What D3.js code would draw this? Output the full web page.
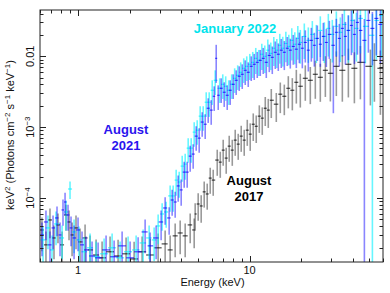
<!DOCTYPE html>
<html>
<head>
<meta charset="utf-8">
<script src="https://cdnjs.cloudflare.com/ajax/libs/d3/7.8.5/d3.min.js"></script>
<style>
    body { margin: 0; background: #fff; }
    svg { display: block; font-family: "Liberation Sans", Arial, sans-serif; }
</style>
</head>
<body>
<div id="chart"></div>
<script>
'use strict';

// August 2017 (black): bin centre (keV), flux (keV^2 photons cm^-2 s^-1 keV^-1), relative 1-sigma error
var energy2017 = [0.616, 0.650, 0.686, 0.724, 0.764, 0.807, 0.851, 0.886, 0.923, 0.973, 1.027, 1.099,
    1.175, 1.274, 1.381, 1.537, 1.712, 1.906, 2.123, 2.364, 2.632, 2.931, 3.220, 3.444,
    3.684, 3.940, 4.214, 4.507, 4.756, 4.819, 5.018, 5.224, 5.440, 5.664, 5.897, 6.140,
    6.48, 6.75, 7.02, 7.31, 7.61, 7.93, 8.25, 8.59, 8.94, 9.31, 9.70, 10.09,
    10.51, 10.94, 11.40, 11.86, 12.35, 12.86, 13.39, 14.32, 15.11, 15.95, 16.83, 17.76,
    18.74, 19.77, 21.14, 22.61, 24.18, 25.86, 27.67, 29.59, 32.07, 34.76, 37.69, 40.86,
    44.29, 50.66, 53.46, 57.94];
var flux2017 = [3.54e-5, 2.18e-5, 4.90e-5, 2.73e-5, 4.17e-5, 2.18e-5, 5.76e-5, 4.59e-5, 3.01e-5, 3.78e-5, 2.40e-5, 2.73e-5,
    1.85e-5, 1.57e-5, 1.43e-5, 1.74e-5, 1.52e-5, 1.63e-5, 1.38e-5, 1.74e-5, 1.57e-5, 1.98e-5, 2.25e-5, 1.85e-5,
    2.92e-5, 3.21e-5, 2.92e-5, 4.17e-5, 3.54e-5, 5.95e-5, 8.23e-5, 7.72e-5, 1.22e-4, 1.14e-4, 1.91e-4, 1.79e-4,
    3.43e-4, 3.21e-4, 4.74e-4, 3.66e-4, 5.40e-4, 4.74e-4, 6.56e-4, 5.76e-4, 7.47e-4, 6.56e-4, 9.07e-4, 7.97e-4,
    1.10e-3, 1.03e-3, 1.43e-3, 1.34e-3, 1.85e-3, 1.74e-3, 2.40e-3, 2.11e-3, 2.92e-3, 2.73e-3, 3.54e-3, 3.32e-3,
    4.30e-3, 3.78e-3, 4.90e-3, 4.59e-3, 5.58e-3, 5.06e-3, 6.35e-3, 5.76e-3, 7.23e-3, 6.35e-3, 7.72e-3, 6.78e-3,
    8.23e-3, 7.23e-3, 8.78e-3, 6.78e-3];
var relErr2017 = [.5, .55, .45, .5, .45, .55, .4, .45, .5, .5, .55, .55,
    .6, .65, .7, .65, .7, .7, .75, .65, .7, .6, .55, .6,
    .5, .5, .5, .45, .45, .42, .42, .42, .4, .4, .4, .4,
    .4, .4, .4, .4, .4, .4, .4, .4, .4, .4, .4, .42,
    .42, .42, .42, .42, .44, .44, .44, .44, .46, .46, .48, .48,
    .5, .5, .52, .54, .55, .55, .58, .6, .62, .64, .66, .68,
    .7, .72, .74, .78];

// August 2021 (blue)
var energy2021 = [0.616, 0.650, 0.686, 0.715, 0.754, 0.785, 0.817, 0.840, 0.874, 0.910, 0.948, 1.000,
    1.055, 1.114, 1.207, 1.309, 1.457, 1.623, 1.807, 2.012, 2.240, 2.461, 2.632, 2.853,
    3.051, 3.220, 3.398, 3.538, 3.684, 3.836, 3.994, 4.158, 4.329, 4.507, 4.692, 4.885,
    5.086, 5.295, 5.513, 5.740, 5.976, 6.222, 6.392, 6.566, 6.837, 7.117, 7.410, 7.715,
    8.032, 8.362, 8.707, 9.065, 9.438, 9.826, 10.23, 10.65, 11.09, 11.55, 12.02, 12.52,
    13.03, 13.57, 14.13, 14.71, 15.31, 15.95, 16.60, 17.28, 17.99, 18.74, 19.51, 20.31,
    21.14, 22.01, 22.92, 23.86, 24.84, 25.86, 26.93, 28.04, 29.19, 30.81, 32.07, 33.39,
    34.76, 36.21, 37.69, 39.25, 40.86, 42.55, 44.29, 46.73, 49.31, 52.04, 54.90, 57.94];
var flux2021 = [3.01e-5, 4.59e-5, 2.18e-5, 3.78e-5, 5.23e-5, 3.01e-5, 6.78e-5, 8.78e-5, 5.76e-5, 3.78e-5, 2.73e-5, 3.54e-5,
    2.18e-5, 1.85e-5, 1.52e-5, 1.43e-5, 1.85e-5, 1.48e-5, 2.11e-5, 1.43e-5, 1.74e-5, 3.32e-5, 2.11e-5, 2.73e-5,
    4.59e-5, 7.23e-5, 5.23e-5, 9.37e-5, 8.78e-5, 1.48e-4, 1.30e-4, 2.32e-4, 2.32e-4, 3.90e-4, 4.17e-4, 7.47e-4,
    7.00e-4, 1.18e-3, 1.10e-3, 1.85e-3, 1.74e-3, 2.73e-3, 9.37e-3, 2.82e-3, 3.54e-3, 3.11e-3, 2.82e-3, 3.32e-3,
    4.03e-3, 4.59e-3, 5.23e-3, 5.58e-3, 6.35e-3, 5.95e-3, 7.23e-3, 7.72e-3, 8.23e-3, 8.78e-3, 9.37e-3, 8.23e-3,
    0.0103, 0.00968, 0.0114, 0.0107, 0.0122, 0.0114, 0.0130, 0.0122, 0.0138, 0.0126, 0.0148, 0.0130,
    0.0157, 0.0122, 0.0168, 0.0143, 0.0179, 0.0148, 0.0191, 0.0157, 0.0204, 0.0143, 0.0218, 0.0179,
    0.0248, 0.0191, 0.0232, 0.0273, 0.0204, 0.0301, 0.0232, 0.0168, 0.0321, 0.0248, 0.0343, 0.0282];
var relErr2021 = [.5, .45, .55, .5, .45, .5, .4, .35, .4, .45, .5, .5,
    .55, .55, .6, .65, .6, .7, .6, .7, .6, .5, .55, .5,
    .45, .42, .42, .4, .4, .4, .4, .4, .4, .4, .38, .38,
    .38, .38, .38, .38, .38, .38, .55, .38, .38, .38, .38, .38,
    .38, .38, .38, .38, .38, .38, .38, .4, .4, .4, .4, .4,
    .42, .42, .42, .42, .44, .44, .44, .45, .45, .46, .46, .48,
    .48, .5, .5, .5, .52, .52, .55, .55, .55, .89, .55, .6,
    .6, .6, .62, .62, .62, .65, .65, 1.0, .65, .7, .7, .72];

// January 2022 (cyan)
var energy2022 = [0.625, 0.668, 0.705, 0.744, 0.807, 0.851, 0.898, 0.948, 1.013, 1.084, 1.175, 1.274,
    1.419, 1.580, 1.759, 1.958, 2.181, 2.396, 2.597, 2.778, 2.931, 3.093, 3.264, 3.444,
    3.586, 3.734, 3.888, 4.048, 4.214, 4.387, 4.568, 4.756, 4.951, 5.154, 5.367, 5.588,
    5.818, 6.058, 6.306, 6.70, 6.98, 7.26, 7.56, 7.87, 8.19, 8.53, 8.88, 9.25,
    9.63, 10.03, 10.44, 10.87, 11.32, 11.79, 12.27, 12.78, 13.30, 13.85, 14.42, 15.01,
    15.62, 16.28, 16.94, 17.63, 18.36, 19.12, 19.77, 20.86, 22.01, 23.23, 24.51, 25.86,
    27.30, 28.80, 30.39, 32.07, 33.84, 35.72, 37.69, 39.78, 41.98, 44.29, 47.36, 52.04,
    54.90, 58.72];
var flux2022 = [2.56e-5, 3.78e-5, 1.85e-5, 4.30e-5, 2.73e-5, 6.35e-5, 1.34e-4, 3.32e-5, 2.56e-5, 1.74e-5, 1.98e-5, 1.48e-5,
    1.63e-5, 1.98e-5, 1.43e-5, 1.74e-5, 1.85e-5, 2.32e-5, 2.73e-5, 2.56e-5, 4.03e-5, 5.95e-5, 6.35e-5, 1.07e-4,
    1.07e-4, 1.79e-4, 1.68e-4, 2.82e-4, 3.01e-4, 5.06e-4, 5.06e-4, 8.51e-4, 9.07e-4, 1.43e-3, 1.43e-3, 2.25e-3,
    2.25e-3, 3.32e-3, 4.59e-3, 3.54e-3, 4.03e-3, 3.78e-3, 3.32e-3, 4.03e-3, 4.90e-3, 5.40e-3, 5.95e-3, 6.78e-3,
    7.23e-3, 7.72e-3, 8.23e-3, 9.37e-3, 8.78e-3, 0.0107, 0.0100, 0.0122, 0.0110, 0.0130, 0.0122, 0.0143,
    0.0130, 0.0152, 0.0138, 0.0168, 0.0148, 0.0179, 0.0157, 0.0191, 0.0168, 0.0204, 0.0179, 0.0232,
    0.0191, 0.0248, 0.0204, 0.0265, 0.0218, 0.0282, 0.0232, 0.0321, 0.0248, 0.0343, 0.0265, 0.0198,
    0.0321, 0.0378];
var relErr2022 = [.55, .5, .6, .5, .5, .45, .28, .5, .55, .6, .6, .65,
    .65, .6, .7, .65, .6, .55, .5, .5, .45, .42, .4, .4,
    .4, .4, .4, .4, .4, .38, .38, .38, .38, .38, .38, .38,
    .38, .38, .38, .38, .38, .38, .38, .38, .38, .38, .38, .38,
    .38, .4, .4, .4, .4, .4, .42, .42, .42, .44, .44, .45,
    .45, .46, .46, .48, .48, .5, .5, .52, .52, .54, .55, .58,
    .58, .6, .6, .62, .62, .64, .65, .65, .66, .68, .7, 1.0,
    .72, .75];

var xMajorTicks = [1, 10];
var yMajorTicks = [1e-4, 1e-3, 0.01];
var yTickLabels = [{base: '10', exp: '\u22124'}, {base: '10', exp: '\u22123'}, {base: '0.01', exp: ''}];

var width = 390;
var height = 293;
var margin = {top: 10, right: 7, bottom: 31, left: 40};

var x = d3.scaleLog().domain([0.6, 60]).range([margin.left, width - margin.right]);
var y = d3.scaleLog().domain([1.25e-5, 0.045]).range([height - margin.bottom, margin.top]);

var svg = d3.select('#chart').append('svg')
    .attr('width', width)
    .attr('height', height);

svg.append('clipPath')
    .attr('id', 'plotClip')
    .append('rect')
    .attr('x', margin.left)
    .attr('y', margin.top)
    .attr('width', width - margin.left - margin.right)
    .attr('height', height - margin.top - margin.bottom);

var series = [
    {energy: energy2017, flux: flux2017, err: relErr2017, bar: 'rgba(0,0,0,0.4)', cross: '#000'},
    {energy: energy2022, flux: flux2022, err: relErr2022, bar: 'rgba(0,240,255,0.6)', cross: '#00f0ff'},
    {energy: energy2021, flux: flux2021, err: relErr2021, bar: 'rgba(10,0,255,0.48)', cross: '#0a00ff'}
];

// contiguous bins: edges half way (in log) between neighbouring centres
var binEdges = function (energy) {
    var n = energy.length;
    return energy.map(function (e, i) {
        var prev = i > 0 ? energy[i - 1] : e * e / energy[i + 1];
        var next = i < n - 1 ? energy[i + 1] : e * e / energy[i - 1];
        return [Math.sqrt(prev * e), Math.sqrt(e * next)];
    });
};

var dataG = svg.append('g').attr('clip-path', 'url(#plotClip)');

series.forEach(function (s) {
    var edges = binEdges(s.energy);
    var pts = s.energy.map(function (e, i) {
        var f = s.flux[i];
        var lo = f * (1 - s.err[i]);
        return {e: e, f: f, lo: lo > 0 ? lo : 1e-7, hi: f * (1 + s.err[i]), e0: edges[i][0], e1: edges[i][1]};
    });
    var g = dataG.append('g');

    g.selectAll('line.vbar')
        .data(pts)
        .enter().append('line')
        .attr('class', 'vbar')
        .attr('x1', function (d) { return x(d.e); })
        .attr('x2', function (d) { return x(d.e); })
        .attr('y1', function (d) { return y(d.lo); })
        .attr('y2', function (d) { return y(d.hi); })
        .attr('stroke', s.bar)
        .attr('stroke-width', 1.6);

    g.selectAll('line.hbar')
        .data(pts)
        .enter().append('line')
        .attr('class', 'hbar')
        .attr('x1', function (d) { return x(d.e0); })
        .attr('x2', function (d) { return x(d.e1); })
        .attr('y1', function (d) { return y(d.f); })
        .attr('y2', function (d) { return y(d.f); })
        .attr('stroke', s.cross)
        .attr('stroke-opacity', 0.85)
        .attr('stroke-width', 1);
});

// frame and ticks (inside, on all four sides)
var x0 = margin.left, x1 = width - margin.right;
var y0 = height - margin.bottom, y1 = margin.top;
var axisG = svg.append('g').attr('stroke', '#222').attr('stroke-width', 1);

axisG.append('rect')
    .attr('x', x0)
    .attr('y', y1)
    .attr('width', x1 - x0)
    .attr('height', y0 - y1)
    .attr('fill', 'none');

var isMajor = function (v, list) {
    return list.some(function (m) { return Math.abs(v / m - 1) < 1e-6; });
};

x.ticks().forEach(function (v) {
    var len = isMajor(v, xMajorTicks) ? 6 : 3.5;
    var px = Math.round(x(v)) + 0.5;
    axisG.append('line').attr('x1', px).attr('x2', px).attr('y1', y0).attr('y2', y0 - len);
    axisG.append('line').attr('x1', px).attr('x2', px).attr('y1', y1).attr('y2', y1 + len);
});

y.ticks().forEach(function (v) {
    var len = isMajor(v, yMajorTicks) ? 6 : 3.5;
    var py = Math.round(y(v)) + 0.5;
    axisG.append('line').attr('x1', x0).attr('x2', x0 + len).attr('y1', py).attr('y2', py);
    axisG.append('line').attr('x1', x1).attr('x2', x1 - len).attr('y1', py).attr('y2', py);
});

// tick labels
svg.selectAll('text.xtick')
    .data(xMajorTicks)
    .enter().append('text')
    .attr('class', 'xtick')
    .attr('x', function (d) { return x(d); })
    .attr('y', y0 + 12)
    .attr('text-anchor', 'middle')
    .style('font-size', '11px')
    .attr('fill', '#111')
    .text(function (d) { return d; });

yMajorTicks.forEach(function (v, i) {
    var t = svg.append('text')
        .attr('transform', 'translate(' + (x0 - 6.5) + ',' + y(v) + ') rotate(-90)')
        .attr('text-anchor', 'middle')
        .style('font-size', '11px')
        .attr('fill', '#111');
    t.append('tspan').text(yTickLabels[i].base);
    if (yTickLabels[i].exp) {
        t.append('tspan')
            .attr('dy', -4)
            .style('font-size', '8px')
            .text(yTickLabels[i].exp);
    }
});

// axis titles
svg.append('text')
    .attr('x', (x0 + x1) / 2 + 1)
    .attr('y', height - 7)
    .attr('text-anchor', 'middle')
    .style('font-size', '11px')
    .attr('fill', '#111')
    .text('Energy (keV)');

var yTitle = svg.append('text')
    .attr('transform', 'translate(13.5,' + 135 + ') rotate(-90)')
    .attr('text-anchor', 'middle')
    .style('font-size', '11px')
    .attr('fill', '#111');

var titleParts = [['keV', ''], ['', '2'], [' (Photons cm', ''], ['', '\u22122'], [' s', ''], ['', '\u22121'], [' keV', ''], ['', '\u22121'], [')', '']];
var raised = false;
titleParts.forEach(function (p) {
    if (p[1]) {
        yTitle.append('tspan').attr('dy', raised ? 0 : -4).style('font-size', '8px').text(p[1]);
        raised = true;
    } else {
        yTitle.append('tspan').attr('dy', raised ? 4 : 0).text(p[0]);
        raised = false;
    }
});

// epoch labels
var labels = [
    {lines: ['January 2022'], x: 235, y: 33, color: '#00e3ec'},
    {lines: ['August', '2021'], x: 126, y: 134, color: '#2a14ee'},
    {lines: ['August', '2017'], x: 249, y: 185, color: '#000'}
];

labels.forEach(function (l) {
    var t = svg.append('text')
        .attr('text-anchor', 'middle')
        .style('font-size', '13px')
        .style('font-weight', 'bold')
        .attr('fill', l.color);
    l.lines.forEach(function (line, i) {
        t.append('tspan')
            .attr('x', l.x)
            .attr('y', l.y + i * 16)
            .text(line);
    });
});
</script>
</body>
</html>
